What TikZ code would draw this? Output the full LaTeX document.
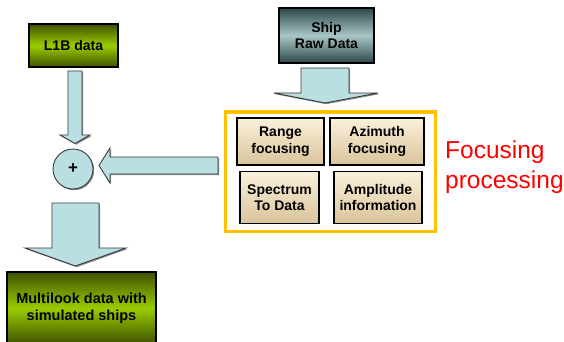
\documentclass[tikz,border=0pt]{standalone}
\usepackage{fontspec}
\setmainfont{Liberation Sans}
\usetikzlibrary{shadows}
\definecolor{arrowblue}{HTML}{B9DFE3}
\definecolor{greenmid}{HTML}{9ACC00}
\definecolor{greenedge}{HTML}{3F5200}
\definecolor{tealmid}{HTML}{A9C6C6}
\definecolor{tealedge}{HTML}{2C4848}
\definecolor{beigetop}{HTML}{FAF0DA}
\definecolor{beigebot}{HTML}{D9C49B}
\definecolor{frameyellow}{HTML}{FFC000}
\definecolor{outline}{HTML}{3A3A3A}
\tikzset{
  boxtext/.style={font=\bfseries\fontsize{14}{16.5}\selectfont, align=center, text=black},
  greenbox/.style={draw=black, line width=1.4pt, top color=greenedge, bottom color=greenedge, middle color=greenmid, boxtext},
  tealbox/.style={draw=black, line width=1.4pt, top color=tealedge, bottom color=tealedge, middle color=tealmid, boxtext},
  beigebox/.style={draw=black, line width=1.6pt, top color=beigetop, bottom color=beigebot, boxtext, inner sep=0pt},
  blockarrow/.style={fill=arrowblue, draw=outline, line width=0.9pt, line join=miter,
    drop shadow={shadow xshift=1.2pt, shadow yshift=-1.2pt, opacity=0.45, fill=black}},
  redtext/.style={text=red, font=\fontsize{24.5}{30}\selectfont, inner sep=0pt}
}
\begin{document}
\begin{tikzpicture}[x=1pt,y=-1pt]
\useasboundingbox (0,0) rectangle (564,342);
\clip (0,0) rectangle (564,342);
\fill[white] (0,0) rectangle (564,342);

% boxes
\node[greenbox, minimum width=89pt, minimum height=43pt] (l1b) at (73.5,45.5) {L1B data};
\node[tealbox, minimum width=95pt, minimum height=55pt] (ship) at (326.5,35.5) {Ship\\Raw Data};
\node[greenbox, minimum width=149pt, minimum height=72pt, font=\bfseries\fontsize{14.5}{17}\selectfont] (multi) at (81.5,308) {Multilook data with\\simulated ships};

% focusing frame
\node[draw=frameyellow, line width=3pt, minimum width=210pt, minimum height=119pt] (frame) at (330,171.5) {};
\node[beigebox, minimum width=87pt, minimum height=47pt] (range) at (280.5,141.5) {Range\\focusing};
\node[beigebox, minimum width=94pt, minimum height=47pt] (azim) at (377,141.5) {Azimuth\\focusing};
\node[beigebox, minimum width=79pt, minimum height=52pt] (spec) at (279.5,197.5) {Spectrum\\To Data};
\node[beigebox, minimum width=88pt, minimum height=52pt] (ampl) at (378,197.5) {Amplitude\\information};

\node[redtext, anchor=base west] (foc1) at (445,158) {Focusing};
\node[redtext, anchor=base west] (foc2) at (445,188) {processing};

% block arrows
\draw[blockarrow] (68,71) -- (82,71) -- (82,135) -- (90,135) -- (75,143.5) -- (60,135) -- (68,135) -- cycle;
\draw[blockarrow] (218,157) -- (218,174) -- (110,174) -- (110,183) -- (99,165.5) -- (110,148) -- (110,157) -- cycle;
\draw[blockarrow] (52,203) -- (99,203) -- (99,248) -- (126,248) -- (75.5,266) -- (25,248) -- (52,248) -- cycle;
\draw[blockarrow] (301,68) -- (349,68) -- (349,93) -- (378,93) -- (325,103) -- (274,93) -- (301,93) -- cycle;

% summing junction
\node[circle, fill=arrowblue, draw=outline, line width=0.9pt, minimum size=40pt, inner sep=0pt,
      font=\bfseries\fontsize{17}{17}\selectfont,
      drop shadow={shadow xshift=1.2pt, shadow yshift=-1.2pt, opacity=0.45, fill=black}] (sum) at (73,169) {+};
\end{tikzpicture}
\end{document}
